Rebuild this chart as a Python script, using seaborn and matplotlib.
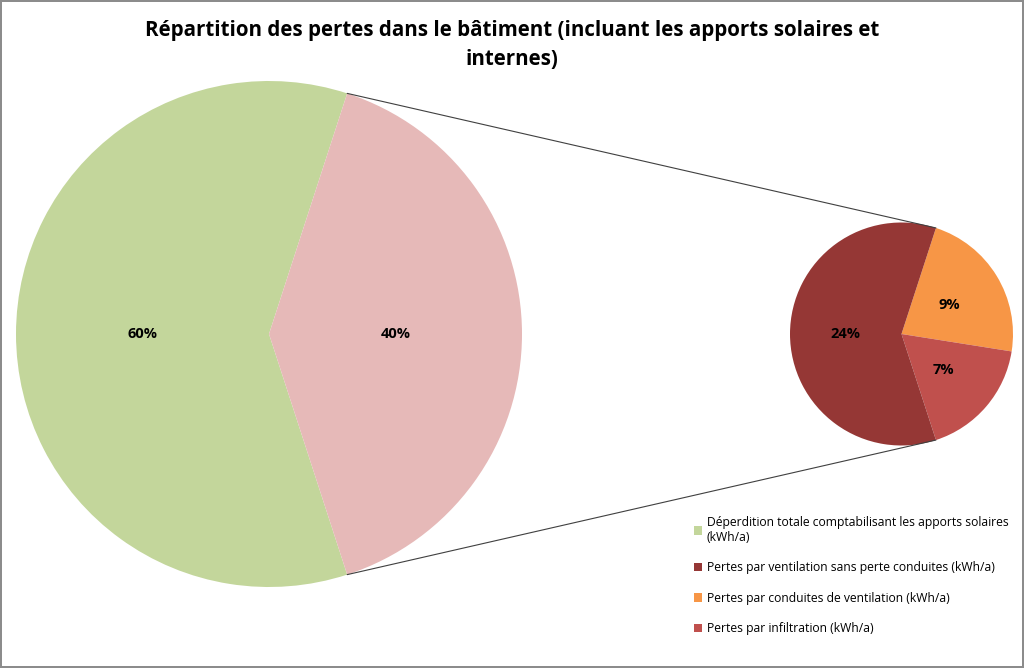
import matplotlib
matplotlib.use("Agg")

import matplotlib.pyplot as plt
import numpy as np
import seaborn as sns

# ---------------------------------------------------------------------------
# Data (share of total losses, %)
# ---------------------------------------------------------------------------
MAIN_LABELS = [
    "Déperdition totale comptabilisant les apports solaires\n(kWh/a)",
    "Autres",
]
MAIN_VALUES = [60, 40]

DETAIL_LABELS = [
    "Pertes par conduites de ventilation (kWh/a)",
    "Pertes par infiltration (kWh/a)",
    "Pertes par ventilation sans perte conduites (kWh/a)",
]
DETAIL_VALUES = [9, 7, 24]

TITLE = "Répartition des pertes dans le bâtiment (incluant les apports solaires et\ninternes)"

MAIN_COLORS = ["#C3D69B", "#E6B9B8"]
DETAIL_COLORS = ["#F79646", "#C0504D", "#953735"]
FONT = ["Open Sans", "DejaVu Sans"]

sns.set_theme(style="white")
plt.rcParams["font.family"] = FONT

W, H = 1024, 668
fig = plt.figure(figsize=(W / 100, H / 100), dpi=100)
fig.patch.set_edgecolor("#8c8c8c")
fig.patch.set_linewidth(1.5)
ax = fig.add_axes([0, 0, 1, 1])

main_c, main_r = (269, 334), 253
det_c, det_r = (901.5, 334), 111.5

other = MAIN_VALUES[1]
main_wedges, _, main_txt = ax.pie(
    MAIN_VALUES, colors=MAIN_COLORS, startangle=72, counterclock=True,
    center=main_c, radius=main_r, autopct="%d%%", pctdistance=0.5,
    wedgeprops={"linewidth": 0},
)
det_wedges, _, det_txt = ax.pie(
    DETAIL_VALUES, colors=DETAIL_COLORS, startangle=72, counterclock=False,
    center=det_c, radius=det_r,
    autopct=lambda p: f"{p * other / 100:.0f}%", pctdistance=0.5,
    wedgeprops={"linewidth": 0},
)
for t in main_txt + det_txt:
    t.set_fontsize(10.5)
    t.set_fontweight("bold")
    t.set_color("black")

# connector lines between the "other" slice and the detail pie
pink = main_wedges[1]
for a_main, a_det in [(pink.theta2, 72), (pink.theta1, -72)]:
    p0 = (main_c[0] + main_r * np.cos(np.radians(a_main)),
          main_c[1] + main_r * np.sin(np.radians(a_main)))
    p1 = (det_c[0] + det_r * np.cos(np.radians(a_det)),
          det_c[1] + det_r * np.sin(np.radians(a_det)))
    ax.plot([p0[0], p1[0]], [p0[1], p1[1]], color="#404040", lw=0.8)

ax.set_xlim(0, W)
ax.set_ylim(0, H)
ax.set_aspect("equal")
ax.axis("off")

fig.text(0.5, 1 - 45 / H, TITLE, ha="center", va="center",
         fontsize=14.8, fontweight="bold", color="black", linespacing=1.55)

handles = [main_wedges[0], det_wedges[2], det_wedges[0], det_wedges[1]]
labels = [MAIN_LABELS[0], DETAIL_LABELS[2], DETAIL_LABELS[0], DETAIL_LABELS[1]]
fig.legend(handles, labels, loc="upper left", bbox_to_anchor=(0.667, 1 - 505 / H),
           frameon=False, fontsize=8.7, handlelength=0.7, handleheight=0.7,
           handletextpad=0.35, labelspacing=1.45, labelcolor="black")

fig.savefig("out.png", dpi=100, facecolor="white", edgecolor=fig.patch.get_edgecolor())
